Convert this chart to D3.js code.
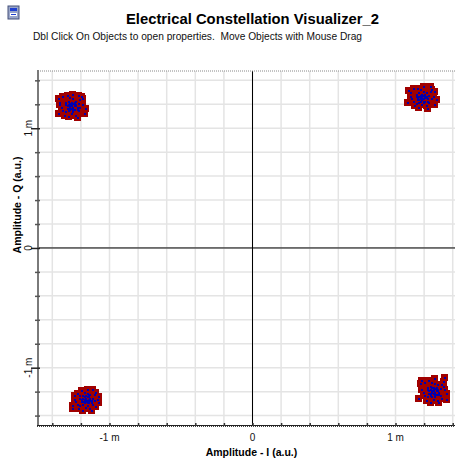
<!DOCTYPE html>
<html>
<head>
<meta charset="utf-8">
<script src="https://cdn.jsdelivr.net/npm/d3@7"></script>
<style>
  html, body { margin: 0; padding: 0; background: #ffffff; }
  svg { display: block; font-family: Arial, "Liberation Sans", sans-serif; }
  .pre { white-space: pre; }
</style>
</head>
<body>
<svg id="chart" width="459" height="459"></svg>
<script>
// Received QPSK symbols, [I, Q] in milli-units, one array per quadrant
const clusterTL = [
  [-1.27,1.19],[-1.25,1.21],[-1.29,1.17],[-1.23,1.18],[-1.31,1.22],[-1.26,1.14],[-1.21,1.24],[-1.33,1.15],
  [-1.28,1.26],[-1.19,1.20],[-1.35,1.20],[-1.24,1.11],[-1.30,1.28],[-1.22,1.15],[-1.32,1.11],[-1.17,1.17],
  [-1.26,1.29],[-1.36,1.25],[-1.20,1.27],[-1.29,1.10],[-1.34,1.18],[-1.24,1.23],[-1.28,1.21],[-1.25,1.16],
  [-1.30,1.19],[-1.22,1.21],[-1.27,1.13],[-1.18,1.13],[-1.33,1.27],[-1.23,1.09],[-1.36,1.13],[-1.21,1.18],
  [-1.31,1.14],[-1.26,1.25],[-1.29,1.23],[-1.24,1.19],[-1.19,1.25],[-1.35,1.22],[-1.28,1.16],[-1.22,1.28],
  [-1.27,1.20],[-1.26,1.18],[-1.28,1.19],[-1.25,1.19],[-1.27,1.17],[-1.29,1.20],[-1.26,1.21],[-1.28,1.18],
  [-1.24,1.20],[-1.30,1.17],[-1.25,1.22],[-1.27,1.22],[-1.29,1.15],[-1.23,1.16],[-1.31,1.20],[-1.26,1.16]
];
const clusterTR = [
  [1.18,1.26],[1.20,1.28],[1.16,1.24],[1.22,1.25],[1.14,1.29],[1.19,1.22],[1.24,1.31],[1.12,1.23],
  [1.17,1.33],[1.26,1.27],[1.10,1.27],[1.21,1.19],[1.15,1.34],[1.23,1.22],[1.13,1.19],[1.28,1.24],
  [1.19,1.35],[1.09,1.32],[1.25,1.33],[1.16,1.18],[1.11,1.25],[1.21,1.30],[1.17,1.28],[1.20,1.23],
  [1.15,1.26],[1.23,1.28],[1.18,1.20],[1.27,1.20],[1.12,1.34],[1.22,1.17],[1.08,1.22],[1.25,1.25],
  [1.14,1.21],[1.19,1.31],[1.16,1.30],[1.21,1.26],[1.27,1.31],[1.10,1.30],[1.17,1.23],[1.24,1.35],
  [1.18,1.27],[1.19,1.25],[1.17,1.26],[1.20,1.26],[1.18,1.24],[1.16,1.27],[1.19,1.28],[1.17,1.25],
  [1.21,1.27],[1.15,1.24],[1.20,1.29],[1.18,1.29],[1.16,1.22],[1.22,1.23],[1.14,1.27],[1.19,1.23]
];
const clusterBL = [
  [-1.17,-1.26],[-1.15,-1.24],[-1.19,-1.28],[-1.13,-1.27],[-1.21,-1.23],[-1.16,-1.31],[-1.11,-1.22],[-1.23,-1.30],
  [-1.18,-1.20],[-1.09,-1.26],[-1.25,-1.26],[-1.14,-1.34],[-1.20,-1.19],[-1.12,-1.30],[-1.22,-1.34],[-1.08,-1.29],
  [-1.16,-1.18],[-1.26,-1.31],[-1.10,-1.20],[-1.19,-1.35],[-1.24,-1.28],[-1.14,-1.22],[-1.18,-1.24],[-1.15,-1.29],
  [-1.20,-1.26],[-1.12,-1.25],[-1.17,-1.33],[-1.08,-1.24],[-1.23,-1.21],[-1.13,-1.35],[-1.26,-1.34],[-1.11,-1.27],
  [-1.21,-1.31],[-1.16,-1.21],[-1.19,-1.23],[-1.14,-1.27],[-1.10,-1.32],[-1.25,-1.23],[-1.18,-1.29],[-1.12,-1.18],
  [-1.17,-1.25],[-1.16,-1.27],[-1.18,-1.26],[-1.15,-1.26],[-1.17,-1.28],[-1.19,-1.25],[-1.16,-1.24],[-1.18,-1.27],
  [-1.14,-1.25],[-1.20,-1.28],[-1.15,-1.23],[-1.17,-1.23],[-1.19,-1.30],[-1.13,-1.29],[-1.21,-1.25],[-1.16,-1.29]
];
const clusterBR = [
  [1.26,-1.19],[1.28,-1.17],[1.24,-1.21],[1.30,-1.20],[1.22,-1.16],[1.27,-1.24],[1.32,-1.14],[1.20,-1.23],
  [1.25,-1.12],[1.34,-1.18],[1.18,-1.18],[1.29,-1.27],[1.23,-1.10],[1.31,-1.23],[1.21,-1.27],[1.35,-1.21],
  [1.27,-1.09],[1.17,-1.13],[1.33,-1.11],[1.24,-1.29],[1.19,-1.20],[1.29,-1.14],[1.25,-1.16],[1.28,-1.22],
  [1.23,-1.19],[1.31,-1.17],[1.26,-1.26],[1.35,-1.26],[1.20,-1.12],[1.30,-1.29],[1.16,-1.25],[1.33,-1.15],
  [1.22,-1.24],[1.27,-1.13],[1.24,-1.15],[1.29,-1.19],[1.34,-1.08],[1.18,-1.10],[1.25,-1.24],[1.32,-1.25],
  [1.26,-1.18],[1.27,-1.20],[1.25,-1.19],[1.28,-1.19],[1.26,-1.21],[1.24,-1.18],[1.27,-1.17],[1.25,-1.20],
  [1.29,-1.18],[1.23,-1.21],[1.28,-1.16],[1.26,-1.16],[1.24,-1.23],[1.30,-1.22],[1.22,-1.18],[1.27,-1.22]
];

// Axis ticks (every 0.2) and the labelled ones
const gridTicks = [-1.4,-1.2,-1.0,-0.8,-0.6,-0.4,-0.2,0,0.2,0.4,0.6,0.8,1.0,1.2,1.4];
const labelTicks = [-1, 0, 1];
const tickText = ["-1 m", "0", "1 m"];

const titleText = "Electrical Constellation Visualizer_2";
const subtitleText = "Dbl Click On Objects to open properties.  Move Objects with Mouse Drag";
const xTitle = "Amplitude - I (a.u.)";
const yTitle = "Amplitude - Q (a.u.)";

const svg = d3.select("#chart");
const plot = { left: 38, right: 455, top: 71, bottom: 426 };

const x = d3.scaleLinear().domain([-1.5, 1.416]).range([plot.left, plot.right]);
const y = d3.scaleLinear().domain([-1.487, 1.478]).range([plot.bottom, plot.top]);

// Window icon
const icon = svg.append("g").attr("transform", "translate(8,6)");
icon.append("rect").attr("x", 0).attr("y", 0).attr("width", 11).attr("height", 13).attr("fill", "#9aa6c8").attr("stroke", "#44507a").attr("stroke-width", 1);
icon.append("rect").attr("x", 2).attr("y", 2).attr("width", 7).attr("height", 3).attr("fill", "#2040d0");
icon.append("rect").attr("x", 2).attr("y", 7).attr("width", 7).attr("height", 3).attr("fill", "#ffffff");
icon.append("rect").attr("x", 3).attr("y", 8).attr("width", 5).attr("height", 1).attr("fill", "#2040d0");

// Titles
svg.append("text").attr("x", 252.5).attr("y", 24).attr("text-anchor", "middle")
  .attr("font-size", 14.8).attr("font-weight", "bold").attr("fill", "#000").text(titleText);
svg.append("text").attr("class", "pre").attr("x", 33).attr("y", 39.5)
  .attr("font-size", 10.2).attr("fill", "#111").text(subtitleText);

// Grid
const grid = svg.append("g");
grid.selectAll("line.gx").data(gridTicks).join("line")
  .attr("x1", d => x(d)).attr("x2", d => x(d)).attr("y1", plot.top).attr("y2", plot.bottom)
  .attr("stroke", "#e4e4e4").attr("stroke-width", 1.5);
grid.selectAll("line.gy").data(gridTicks.filter(d => y(d) > plot.top && y(d) < plot.bottom)).join("line")
  .attr("class", "gy")
  .attr("x1", plot.left).attr("x2", plot.right).attr("y1", d => y(d)).attr("y2", d => y(d))
  .attr("stroke", "#e4e4e4").attr("stroke-width", 1.5);

// Origin cross
svg.append("line").attr("x1", x(0)).attr("x2", x(0)).attr("y1", plot.top).attr("y2", plot.bottom)
  .attr("stroke", "#000").attr("stroke-width", 1);
svg.append("line").attr("x1", plot.left).attr("x2", plot.right).attr("y1", y(0)).attr("y2", y(0))
  .attr("stroke", "#000").attr("stroke-width", 1);

// Frame: dotted top edge, solid left axis, double bottom axis
svg.append("line").attr("x1", plot.left + 2).attr("x2", plot.right).attr("y1", plot.top).attr("y2", plot.top)
  .attr("stroke", "#888").attr("stroke-width", 1).attr("stroke-dasharray", "1,1");
svg.append("line").attr("x1", plot.left).attr("x2", plot.left).attr("y1", plot.top - 1).attr("y2", plot.bottom)
  .attr("stroke", "#7a7a7a").attr("stroke-width", 2);
svg.append("line").attr("x1", plot.left - 1).attr("x2", plot.right).attr("y1", plot.bottom - 0.5).attr("y2", plot.bottom - 0.5)
  .attr("stroke", "#222").attr("stroke-width", 1);
svg.append("line").attr("x1", plot.left - 1).attr("x2", plot.right).attr("y1", plot.bottom + 0.5).attr("y2", plot.bottom + 0.5)
  .attr("stroke", "#444").attr("stroke-width", 1).attr("stroke-dasharray", "1,1");

// Axes through d3-axis, then restyled
const xAxis = svg.append("g").attr("transform", `translate(0,${plot.bottom})`)
  .call(d3.axisTop(x).tickValues(gridTicks).tickSize(3).tickFormat(""));
xAxis.select(".domain").remove();
xAxis.selectAll(".tick line").attr("stroke", "#333").attr("stroke-width", 1.5);

const yAxis = svg.append("g").attr("transform", `translate(${plot.left + 2},0)`)
  .call(d3.axisLeft(y).tickValues(gridTicks).tickSize(5).tickFormat(""));
yAxis.select(".domain").remove();
yAxis.selectAll(".tick line").attr("stroke", "#555").attr("stroke-width", 1.5);
yAxis.selectAll(".tick").filter(d => labelTicks.includes(d)).select("line")
  .attr("x2", -9).attr("stroke", "#222");

// Tick labels
svg.append("g").selectAll("text").data(labelTicks).join("text")
  .attr("x", d => x(d)).attr("y", 441).attr("text-anchor", "middle")
  .attr("font-size", 10).attr("fill", "#111").text((d, i) => tickText[i]);
svg.append("g").selectAll("text").data(labelTicks).join("text")
  .attr("transform", d => `translate(32,${y(d)}) rotate(-90)`).attr("text-anchor", "middle")
  .attr("font-size", 10).attr("fill", "#111").text((d, i) => tickText[i]);

// Axis titles
svg.append("text").attr("x", 251.5).attr("y", 455.5).attr("text-anchor", "middle")
  .attr("font-size", 10.5).attr("font-weight", "bold").attr("fill", "#000").text(xTitle);
svg.append("text").attr("transform", `translate(21,205) rotate(-90)`).attr("text-anchor", "middle")
  .attr("font-size", 10.5).attr("font-weight", "bold").attr("fill", "#000").text(yTitle);

// Constellation points: wide dark red squares beneath small blue symbols
const symbols = [].concat(clusterTL, clusterTR, clusterBL, clusterBR);
const pts = svg.append("g").attr("shape-rendering", "crispEdges");
pts.selectAll("rect.halo").data(symbols).join("rect").attr("class", "halo")
  .attr("x", d => Math.round(x(d[0])) - 3).attr("y", d => Math.round(y(d[1])) - 3)
  .attr("width", 7).attr("height", 7).attr("fill", "#a00000");
pts.selectAll("rect.sym").data(symbols).join("rect").attr("class", "sym")
  .attr("x", d => Math.round(x(d[0]))).attr("y", d => Math.round(y(d[1])))
  .attr("width", 2).attr("height", 2).attr("fill", "#0000b0");
</script>
</body>
</html>
